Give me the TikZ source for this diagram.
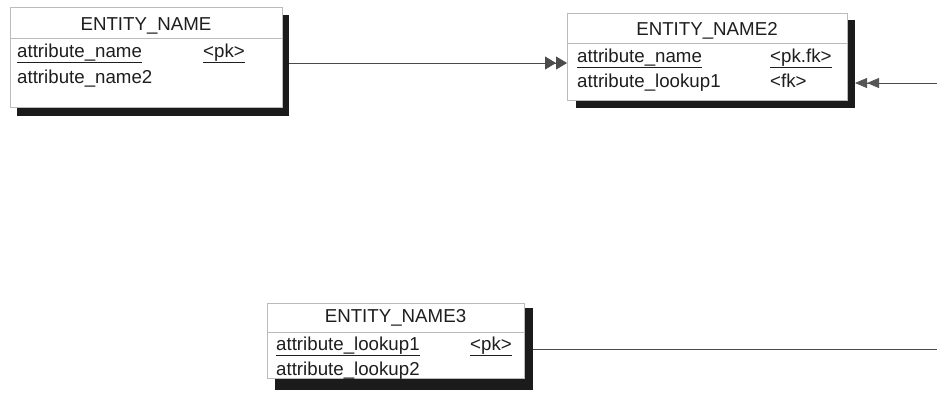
\documentclass[tikz,border=0pt]{standalone}
\usepackage{fontspec}
\setmainfont{Liberation Sans}
\usetikzlibrary{arrows.meta}
\definecolor{txt}{HTML}{1E1E1E}
\definecolor{bord}{HTML}{BBBBBB}
\tikzset{
  ebox/.style={draw=bord, line width=0.6pt, fill=white, anchor=north west, inner sep=0pt, outer sep=0pt},
  eshadow/.style={fill=txt!90!black, draw=none, anchor=north west, inner sep=0pt, outer sep=0pt},
  etext/.style={anchor=base west, inner sep=0pt, text=txt, font=\fontsize{18.7}{22}\selectfont},
  ehead/.style={anchor=base, inner sep=0pt, text=txt, font=\fontsize{18.7}{22}\selectfont},
  sep/.style={draw=bord, line width=0.6pt},
  rel/.style={draw=txt!80, line width=0.8pt},
  dbl/.style={-{Triangle[length=11pt,width=13pt] Triangle[length=11pt,width=13pt]}},
  dbls/.style={-{Triangle[length=12pt,width=10pt,color=txt!75] Triangle[length=12pt,width=10pt,color=txt!75]}}
}
\begin{document}
\begin{tikzpicture}[x=1pt,y=-1pt]
\useasboundingbox (0,0) rectangle (937,392);
% Entity 1
\node[eshadow, minimum width=272pt, minimum height=101pt] (e1s) at (17,15) {};
\node[ebox, minimum width=272pt, minimum height=100pt] (e1) at (10,7) {};
\node[ehead] (e1h) at (146,30) {ENTITY\_NAME};
\draw[sep] (e1.west |- 0,38) -- (e1.east |- 0,38);
\node[etext] (e1a) at (17,57) {\underline{attribute\_name}};
\node[etext] (e1k) at (203,57) {\underline{<pk>}};
\node[etext] (e1b) at (17,83) {attribute\_name2};
% Entity 2
\node[eshadow, minimum width=279pt, minimum height=88pt] (e2s) at (576,20) {};
\node[ebox, minimum width=280pt, minimum height=87pt] (e2) at (567,13) {};
\node[ehead] (e2h) at (707,35) {ENTITY\_NAME2};
\draw[sep] (e2.west |- 0,43) -- (e2.east |- 0,43);
\node[etext] (e2a) at (577,62) {\underline{attribute\_name}};
\node[etext] (e2k) at (770,62) {\underline{<pk.fk>}};
\node[etext] (e2b) at (577,87) {attribute\_lookup1};
\node[etext] (e2l) at (770,87) {<fk>};
% Entity 3
\node[eshadow, minimum width=258pt, minimum height=82pt] (e3s) at (275,308) {};
\node[ebox, minimum width=257pt, minimum height=75pt] (e3) at (267,303) {};
\node[ehead] (e3h) at (395.5,322) {ENTITY\_NAME3};
\draw[sep] (e3.west |- 0,332) -- (e3.east |- 0,332);
\node[etext] (e3a) at (276,350) {\underline{attribute\_lookup1}};
\node[etext] (e3k) at (470,350) {\underline{<pk>}};
\node[etext] (e3b) at (276,375) {attribute\_lookup2};
% right-edge coordinates
\coordinate (r2) at (937,83);
\coordinate (r3) at (937,349);
% Relationships
\draw[rel, dbl] (e1s.east |- 0,63) -- (e2.west |- 0,63);
\draw[rel, dbls] (r2) -- (e2s.east |- r2);
\draw[rel] (e3s.east |- r3) -- (r3);
\end{tikzpicture}
\end{document}
